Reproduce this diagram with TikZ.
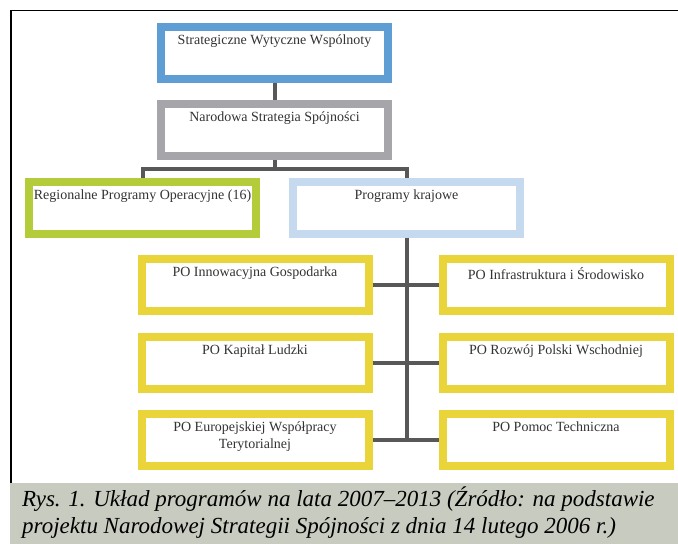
\documentclass[tikz,border=0pt]{standalone}
\usepackage{fontspec}
\setmainfont{Liberation Serif}
\usetikzlibrary{positioning}

\definecolor{swwblue}{RGB}{95,158,213}
\definecolor{nssgray}{RGB}{166,166,170}
\definecolor{rpogreen}{RGB}{181,204,58}
\definecolor{pkblue}{RGB}{197,217,239}
\definecolor{poyellow}{RGB}{233,212,58}
\definecolor{linkgray}{RGB}{88,88,88}
\definecolor{capbg}{RGB}{200,203,192}

\newcommand{\boxtext}[1]{\parbox[c][36pt][t]{220pt}{\centering #1}}

\begin{document}
\begin{tikzpicture}[
x=1pt, y=1pt,
block/.style={rectangle, draw=#1, fill=white, line width=8pt, inner sep=0pt, outer sep=4pt,
minimum width=227pt, minimum height=52pt, node distance=77.5pt,
font=\fontsize{14}{17}\selectfont, text=black!80},
line/.style={draw=linkgray, line width=4pt},
caption/.style={anchor=north west, inner sep=0pt, align=left,
font=\itshape\fontsize{23}{27}\selectfont}
]
\useasboundingbox (0,0) rectangle (678,-544);

% frame and caption bar
\draw [line width=1.5pt] (10.75,-483) |- (678,-10.25);
\fill [capbg] (10,-483) rectangle (678,-544);

\node [block=swwblue] (sww) at (274.5,-52.5) {\boxtext{Strategiczne Wytyczne Wspólnoty}};
\node [block=nssgray, below of=sww] (nss) {\boxtext{Narodowa Strategia Spójności}};
\node [block=rpogreen, below of=nss, xshift=-132pt] (rpo) {\boxtext{Regionalne Programy Operacyjne (16)}};
\node [block=pkblue, node distance=264pt, right of=rpo] (pk) {\boxtext{Programy krajowe}};

\node [block=poyellow, below of=pk, xshift=-151.5pt] (poig) {\boxtext{PO Innowacyjna Gospodarka}};
\node [block=poyellow, node distance=301pt, right of=poig] (poiis) {\boxtext{PO Infrastruktura i Środowisko}};
\node [block=poyellow, below of=poig] (pokl) {\boxtext{PO Kapitał Ludzki}};
\node [block=poyellow, below of=poiis] (porpw) {\boxtext{PO Rozwój Polski Wschodniej}};
\node [block=poyellow, below of=pokl] (poewt) {\boxtext{PO Europejskiej Współpracy\\Terytorialnej}};
\node [block=poyellow, below of=porpw] (popt) {\boxtext{PO Pomoc Techniczna}};

% connectors
\path [line] (sww) -- (nss);
\path [line] (nss.south) -- ++(0,-9) coordinate (split);
\path [line] (rpo.north) |- (split) -| (pk.north);
\path [line] (pk.south) -- (pk.south |- poewt.east);
\path [line] (poig.east) -- (poiis.west);
\path [line] (pokl.east) -- (porpw.west);
\path [line] (poewt.east) -- (popt.west);

\node [caption] (cap) at (22,-487) {Rys. 1. Układ programów na lata 2007–2013 (Źródło: na podstawie\\
projektu Narodowej Strategii Spójności z dnia 14 lutego 2006 r.)};

\end{tikzpicture}
\end{document}
